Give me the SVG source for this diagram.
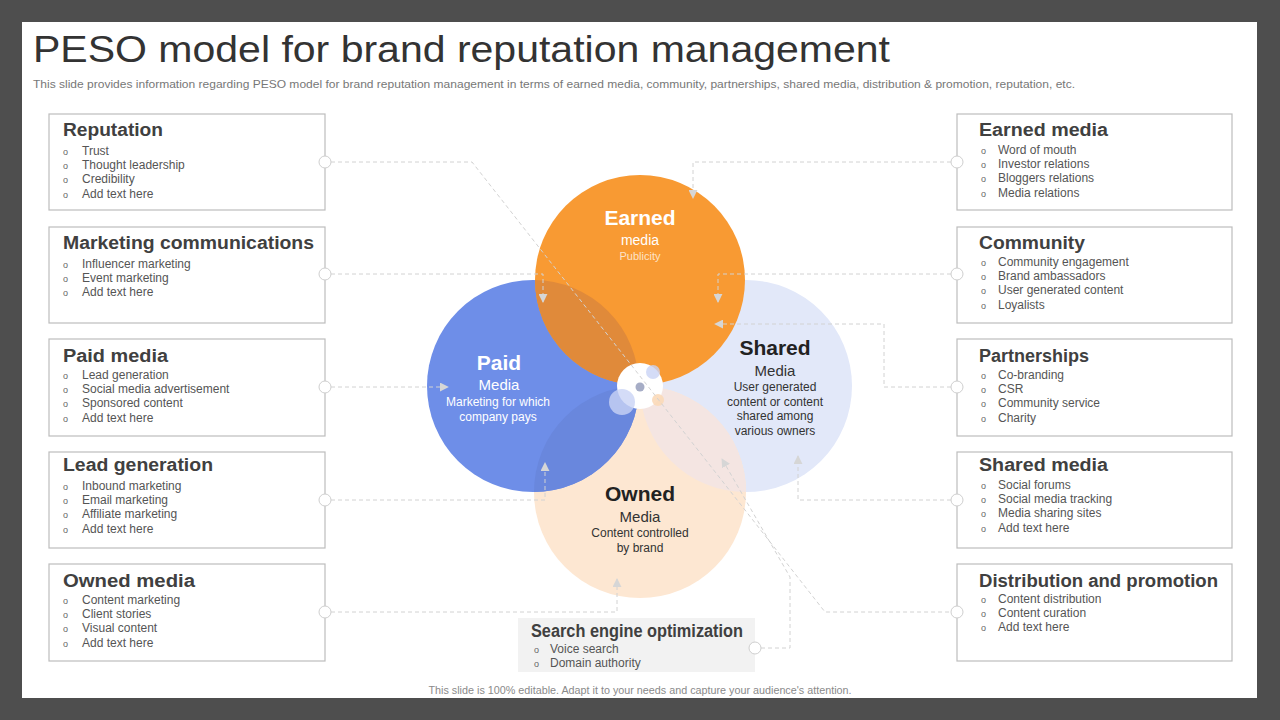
<svg xmlns="http://www.w3.org/2000/svg" width="1280" height="720" viewBox="0 0 1280 720">
<defs>
<style>
.box{fill:#fff;stroke:#bdbdbd;stroke-width:1.2}
.hd{font-family:"Liberation Sans",Arial,sans-serif;font-weight:bold;font-size:18px;fill:#404040}
.bl{font-family:"Liberation Sans",Arial,sans-serif;font-size:12px;fill:#555}
.dot{font-family:"Liberation Sans",Arial,sans-serif;font-size:9px;fill:#666}
.con{fill:none;stroke:#d2d2d2;stroke-width:1;stroke-dasharray:4 3}
.pin{fill:#fff;stroke:#cfcfcf;stroke-width:1}
.ct{font-family:"Liberation Sans",Arial,sans-serif;text-anchor:middle}
</style>
<marker id="arr" viewBox="0 0 10 10" refX="9" refY="5" markerWidth="9" markerHeight="9" markerUnits="userSpaceOnUse" orient="auto">
<path d="M0,0 L10,5 L0,10 z" fill="#d6d6d6"/>
</marker>
<clipPath id="clipE"><circle cx="640" cy="280" r="105"/></clipPath>
<clipPath id="clipO"><circle cx="640" cy="492" r="106"/></clipPath>
</defs>

<rect x="0" y="0" width="1280" height="720" fill="#4e4e4e"/>
<rect x="22" y="22" width="1235" height="676" fill="#fff"/>

<g id="header">
<text x="33" y="62" font-family="'Liberation Sans',Arial,sans-serif" font-size="37" fill="#333" textLength="857" lengthAdjust="spacingAndGlyphs">PESO model for brand reputation management</text>
<text x="33" y="88" font-family="'Liberation Sans',Arial,sans-serif" font-size="11" fill="#777" textLength="1042" lengthAdjust="spacingAndGlyphs">This slide provides information regarding PESO model for brand reputation management in terms of earned media, community, partnerships, shared media, distribution &amp; promotion, reputation, etc.</text>
</g>

<g id="venn">
<circle id="shared-circle" cx="746" cy="386" r="106" fill="#E2E8F9"/>
<circle id="owned-circle" cx="640" cy="492" r="106" fill="#FDE7D2"/>
<circle cx="746" cy="386" r="106" fill="#F4E5E2" clip-path="url(#clipO)"/>
<circle id="paid-circle" cx="533" cy="386" r="106" fill="#6E8EE8"/>
<circle cx="533" cy="386" r="106" fill="#6987DD" clip-path="url(#clipO)"/>
<circle id="earned-circle" cx="640" cy="280" r="105" fill="#F89A33"/>
<circle cx="533" cy="386" r="106" fill="#E08A3A" clip-path="url(#clipE)"/>
<circle cx="640" cy="386" r="23" fill="#fff"/>
<circle cx="622" cy="402" r="13" fill="#C9D3F5" opacity="0.8"/>
<circle cx="653" cy="372" r="7" fill="#C9D3F5" opacity="0.8"/>
<circle cx="658" cy="400" r="6" fill="#FBD9B8" opacity="0.9"/>
<circle cx="640" cy="387" r="4.5" fill="#A6ADC6"/>
</g>

<g id="connectors">
<path class="con" d="M331,162 H472 L825,612 H951"/>
<path class="con" d="M331,274 H543 V302" marker-end="url(#arr)"/>
<path class="con" d="M331,387 H448" marker-end="url(#arr)"/>
<path class="con" d="M331,500 H545 V463" marker-end="url(#arr)"/>
<path class="con" d="M331,612 H617 V579" marker-end="url(#arr)"/>
<path class="con" d="M951,162 H693 V198" marker-end="url(#arr)"/>
<path class="con" d="M951,274 H718 V302" marker-end="url(#arr)"/>
<path class="con" d="M951,387 H884 V324 H715" marker-end="url(#arr)"/>
<path class="con" d="M951,500 H798 V456" marker-end="url(#arr)"/>
<path class="con" d="M761,648 H790 V577 L722,459" marker-end="url(#arr)"/>
</g>

<g id="earned-label">
<text class="ct" x="640" y="225" font-size="21" font-weight="bold" fill="#fff">Earned</text>
<text class="ct" x="640" y="245" font-size="14" fill="#fff">media</text>
<text class="ct" x="640" y="260" font-size="11" fill="#FDE3C8">Publicity</text>
</g>
<g id="paid-label">
<text class="ct" x="499" y="370" font-size="21" font-weight="bold" fill="#fff">Paid</text>
<text class="ct" x="499" y="390" font-size="15" fill="#fff">Media</text>
<text class="ct" x="498" y="406" font-size="12" fill="#fff">Marketing for which</text>
<text class="ct" x="498" y="421" font-size="12" fill="#fff">company pays</text>
</g>
<g id="shared-label">
<text class="ct" x="775" y="355" font-size="21" font-weight="bold" fill="#222">Shared</text>
<text class="ct" x="775" y="376" font-size="15" fill="#333">Media</text>
<text class="ct" x="775" y="391" font-size="12" fill="#333">User generated</text>
<text class="ct" x="775" y="406" font-size="12" fill="#333">content or content</text>
<text class="ct" x="775" y="420" font-size="12" fill="#333">shared among</text>
<text class="ct" x="775" y="435" font-size="12" fill="#333">various owners</text>
</g>
<g id="owned-label">
<text class="ct" x="640" y="501" font-size="21" font-weight="bold" fill="#222">Owned</text>
<text class="ct" x="640" y="522" font-size="15" fill="#333">Media</text>
<text class="ct" x="640" y="537" font-size="12" fill="#333">Content controlled</text>
<text class="ct" x="640" y="552" font-size="12" fill="#333">by brand</text>
</g>

<g id="reputation">
<rect class="box" x="49" y="114" width="276" height="96"/>
<circle class="pin" cx="325" cy="162" r="6"/>
<text class="hd" x="63" y="136" textLength="100" lengthAdjust="spacingAndGlyphs">Reputation</text>
<text class="dot" x="63" y="155">o</text><text class="bl" x="82" y="155">Trust</text>
<text class="dot" x="63" y="169">o</text><text class="bl" x="82" y="169">Thought leadership</text>
<text class="dot" x="63" y="183">o</text><text class="bl" x="82" y="183">Credibility</text>
<text class="dot" x="63" y="198">o</text><text class="bl" x="82" y="198">Add text here</text>
</g>

<g id="marketing-communications">
<rect class="box" x="49" y="227" width="276" height="96"/>
<circle class="pin" cx="325" cy="274" r="6"/>
<text class="hd" x="63" y="249" textLength="251" lengthAdjust="spacingAndGlyphs">Marketing communications</text>
<text class="dot" x="63" y="268">o</text><text class="bl" x="82" y="268">Influencer marketing</text>
<text class="dot" x="63" y="282">o</text><text class="bl" x="82" y="282">Event marketing</text>
<text class="dot" x="63" y="296">o</text><text class="bl" x="82" y="296">Add text here</text>
</g>

<g id="paid-media">
<rect class="box" x="49" y="339" width="276" height="97"/>
<circle class="pin" cx="325" cy="387" r="6"/>
<text class="hd" x="63" y="362" textLength="105" lengthAdjust="spacingAndGlyphs">Paid media</text>
<text class="dot" x="63" y="379">o</text><text class="bl" x="82" y="379">Lead generation</text>
<text class="dot" x="63" y="393">o</text><text class="bl" x="82" y="393">Social media advertisement</text>
<text class="dot" x="63" y="407">o</text><text class="bl" x="82" y="407">Sponsored content</text>
<text class="dot" x="63" y="422">o</text><text class="bl" x="82" y="422">Add text here</text>
</g>

<g id="lead-generation">
<rect class="box" x="49" y="452" width="276" height="96"/>
<circle class="pin" cx="325" cy="500" r="6"/>
<text class="hd" x="63" y="471" textLength="150" lengthAdjust="spacingAndGlyphs">Lead generation</text>
<text class="dot" x="63" y="490">o</text><text class="bl" x="82" y="490">Inbound marketing</text>
<text class="dot" x="63" y="504">o</text><text class="bl" x="82" y="504">Email marketing</text>
<text class="dot" x="63" y="518">o</text><text class="bl" x="82" y="518">Affiliate marketing</text>
<text class="dot" x="63" y="533">o</text><text class="bl" x="82" y="533">Add text here</text>
</g>

<g id="owned-media">
<rect class="box" x="49" y="564" width="276" height="97"/>
<circle class="pin" cx="325" cy="612" r="6"/>
<text class="hd" x="63" y="587" textLength="132" lengthAdjust="spacingAndGlyphs">Owned media</text>
<text class="dot" x="63" y="604">o</text><text class="bl" x="82" y="604">Content marketing</text>
<text class="dot" x="63" y="618">o</text><text class="bl" x="82" y="618">Client stories</text>
<text class="dot" x="63" y="632">o</text><text class="bl" x="82" y="632">Visual content</text>
<text class="dot" x="63" y="647">o</text><text class="bl" x="82" y="647">Add text here</text>
</g>

<g id="earned-media">
<rect class="box" x="957" y="114" width="275" height="96"/>
<circle class="pin" cx="957" cy="162" r="6"/>
<text class="hd" x="979" y="136" textLength="129" lengthAdjust="spacingAndGlyphs">Earned media</text>
<text class="dot" x="981" y="154">o</text><text class="bl" x="998" y="154">Word of mouth</text>
<text class="dot" x="981" y="168">o</text><text class="bl" x="998" y="168">Investor relations</text>
<text class="dot" x="981" y="182">o</text><text class="bl" x="998" y="182">Bloggers relations</text>
<text class="dot" x="981" y="197">o</text><text class="bl" x="998" y="197">Media relations</text>
</g>

<g id="community">
<rect class="box" x="957" y="227" width="275" height="96"/>
<circle class="pin" cx="957" cy="274" r="6"/>
<text class="hd" x="979" y="249" textLength="106" lengthAdjust="spacingAndGlyphs">Community</text>
<text class="dot" x="981" y="266">o</text><text class="bl" x="998" y="266">Community engagement</text>
<text class="dot" x="981" y="280">o</text><text class="bl" x="998" y="280">Brand ambassadors</text>
<text class="dot" x="981" y="294">o</text><text class="bl" x="998" y="294">User generated content</text>
<text class="dot" x="981" y="309">o</text><text class="bl" x="998" y="309">Loyalists</text>
</g>

<g id="partnerships">
<rect class="box" x="957" y="339" width="275" height="97"/>
<circle class="pin" cx="957" cy="387" r="6"/>
<text class="hd" x="979" y="362" textLength="110" lengthAdjust="spacingAndGlyphs">Partnerships</text>
<text class="dot" x="981" y="379">o</text><text class="bl" x="998" y="379">Co-branding</text>
<text class="dot" x="981" y="393">o</text><text class="bl" x="998" y="393">CSR</text>
<text class="dot" x="981" y="407">o</text><text class="bl" x="998" y="407">Community service</text>
<text class="dot" x="981" y="422">o</text><text class="bl" x="998" y="422">Charity</text>
</g>

<g id="shared-media">
<rect class="box" x="957" y="452" width="275" height="96"/>
<circle class="pin" cx="957" cy="500" r="6"/>
<text class="hd" x="979" y="471" textLength="129" lengthAdjust="spacingAndGlyphs">Shared media</text>
<text class="dot" x="981" y="489">o</text><text class="bl" x="998" y="489">Social forums</text>
<text class="dot" x="981" y="503">o</text><text class="bl" x="998" y="503">Social media tracking</text>
<text class="dot" x="981" y="517">o</text><text class="bl" x="998" y="517">Media sharing sites</text>
<text class="dot" x="981" y="532">o</text><text class="bl" x="998" y="532">Add text here</text>
</g>

<g id="distribution-promotion">
<rect class="box" x="957" y="564" width="275" height="97"/>
<circle class="pin" cx="957" cy="612" r="6"/>
<text class="hd" x="979" y="587" textLength="239" lengthAdjust="spacingAndGlyphs">Distribution and promotion</text>
<text class="dot" x="981" y="603">o</text><text class="bl" x="998" y="603">Content distribution</text>
<text class="dot" x="981" y="617">o</text><text class="bl" x="998" y="617">Content curation</text>
<text class="dot" x="981" y="631">o</text><text class="bl" x="998" y="631">Add text here</text>
</g>

<g id="seo">
<rect x="518" y="618" width="237" height="54" fill="#F2F2F2"/>
<circle class="pin" cx="755" cy="648" r="6"/>
<text class="hd" x="531" y="637" font-size="16.5" textLength="212" lengthAdjust="spacingAndGlyphs">Search engine optimization</text>
<text class="dot" x="534" y="653">o</text><text class="bl" x="550" y="653">Voice search</text>
<text class="dot" x="534" y="667">o</text><text class="bl" x="550" y="667">Domain authority</text>
</g>

<g id="footer">
<text x="640" y="694" text-anchor="middle" font-family="'Liberation Sans',Arial,sans-serif" font-size="10" fill="#8a8a8a" textLength="423" lengthAdjust="spacingAndGlyphs">This slide is 100% editable. Adapt it to your needs and capture your audience's attention.</text>
</g>
</svg>
